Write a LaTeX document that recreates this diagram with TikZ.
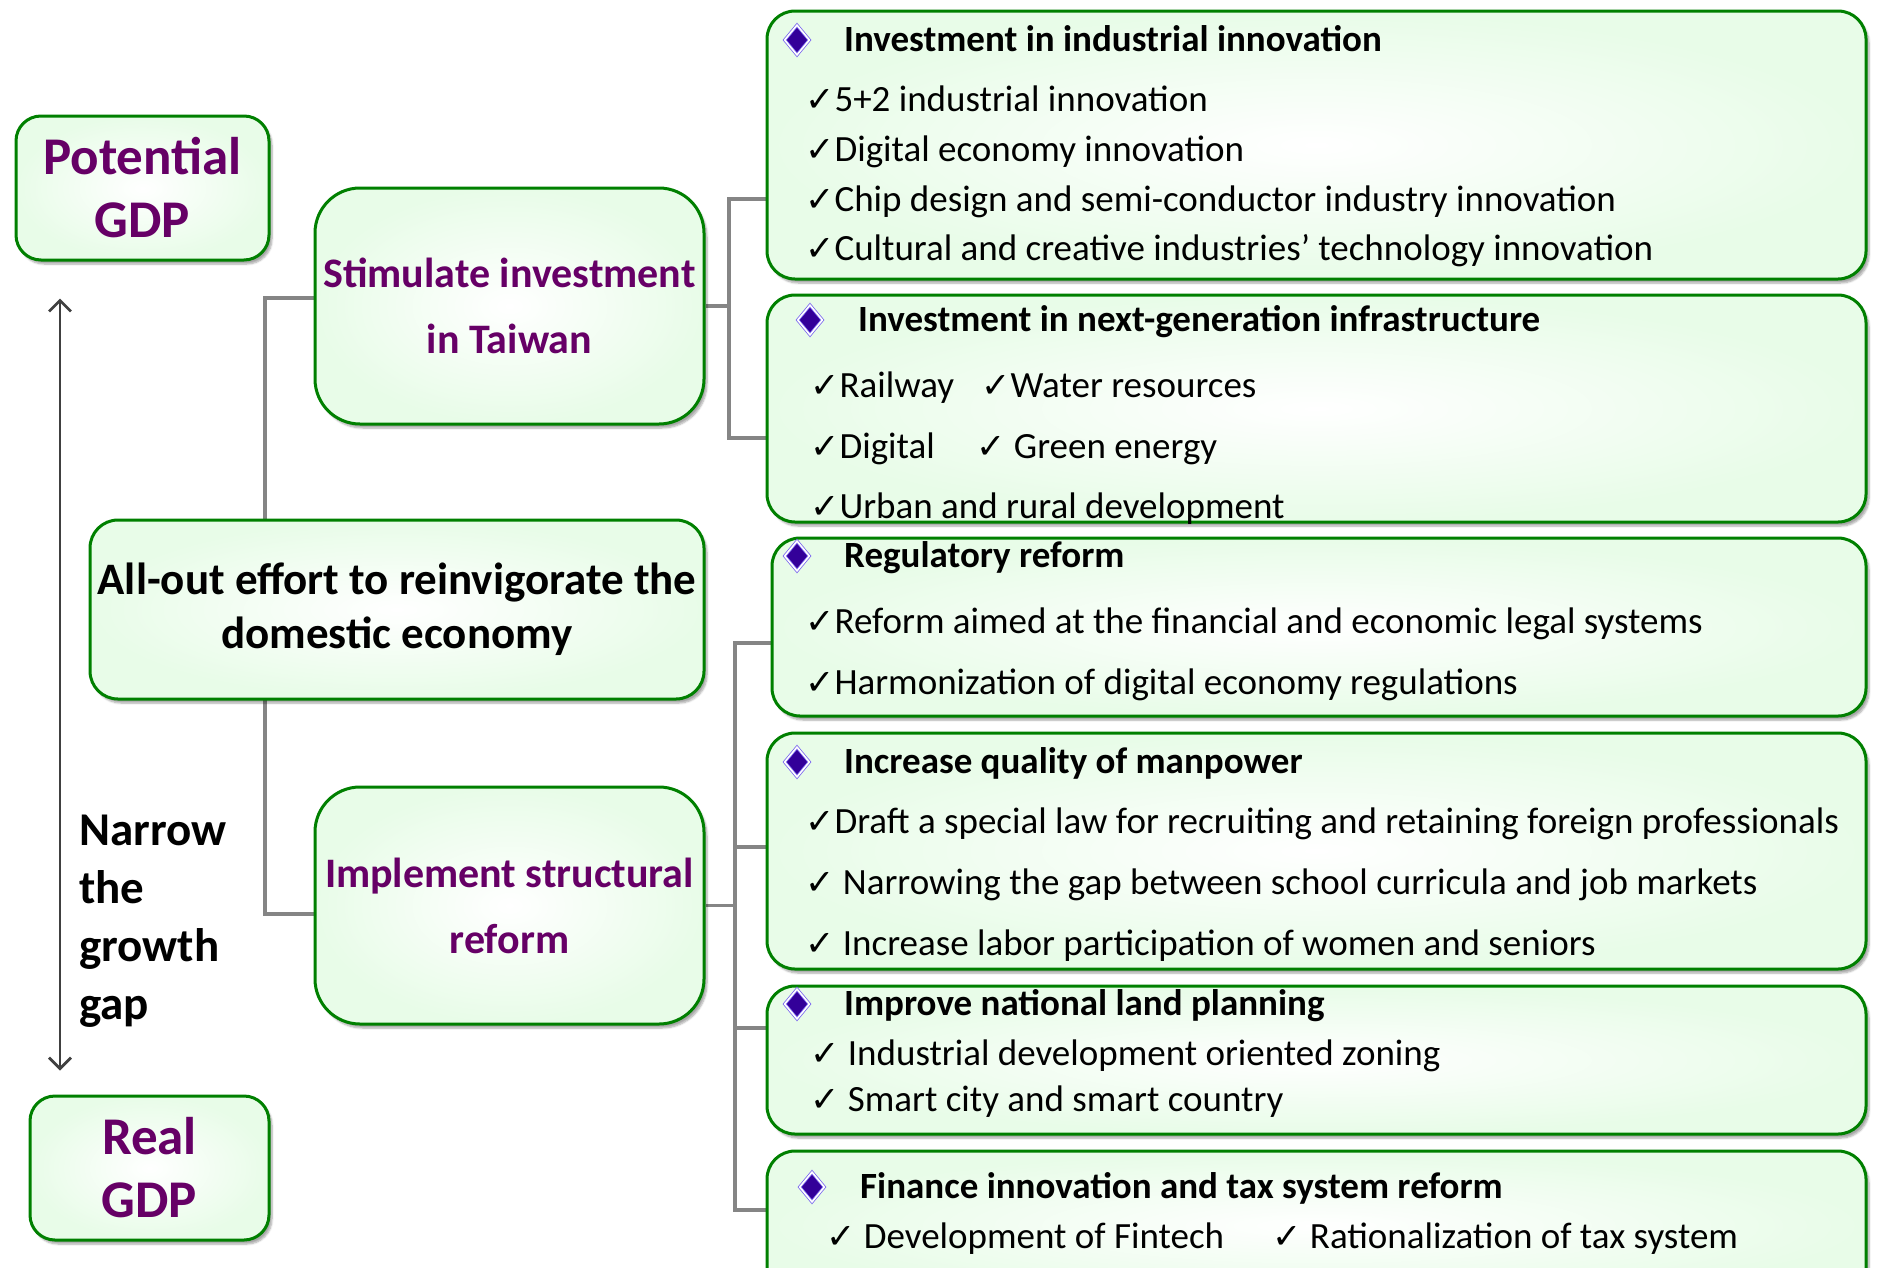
\documentclass[tikz,border=0pt]{standalone}
\usepackage{fontspec}
\setmainfont{Carlito}
\newfontfamily\symf{DejaVu Sans}
\usetikzlibrary{shapes.geometric,arrows.meta,shadows.blur,backgrounds}
\definecolor{gborder}{HTML}{008000}
\definecolor{gfill}{HTML}{E8FCE8}
\definecolor{ptxt}{HTML}{660066}
\definecolor{bfill}{HTML}{330099}
\definecolor{bline}{HTML}{7B68EE}
\definecolor{cgray}{HTML}{858585}
\definecolor{agray}{HTML}{404040}
\newcommand\ck{{\symf\fontsize{35}{35}\selectfont ✓}}
\tikzset{
  gbox/.style={draw=gborder, line width=3pt, rounded corners=#1, inner color=white, outer color=gfill,
    blur shadow={shadow xshift=3pt, shadow yshift=-4pt, shadow blur steps=6, shadow opacity=35},
    inner sep=0pt, align=center},
  gbox/.default=28pt,
  conn/.style={draw=cgray, line width=3.5pt},
  dblarrow/.style={draw=agray, line width=2.8pt, {Straight Barb[length=11pt,width=22pt]}-{Straight Barb[length=11pt,width=22pt]}},
  bigpurple/.style={font=\bfseries\fontsize{53}{63}\selectfont, text=ptxt},
  midpurple/.style={font=\bfseries\fontsize{42}{66}\selectfont, text=ptxt},
  hd/.style={anchor=base west, inner sep=0pt, font=\bfseries\fontsize{37}{37}\selectfont},
  it/.style={anchor=base west, inner sep=0pt, font=\fontsize{37}{37}\selectfont},
  bul/.style={diamond, fill=bfill, draw=bline, double=white, double distance=1.6pt, line width=0.8pt,
    minimum width=25pt, minimum height=30pt, inner sep=0pt},
}
\begin{document}
\begin{tikzpicture}[x=1pt,y=-1pt]
\useasboundingbox (0,0) rectangle (1878,1267);
\clip (0,0) rectangle (1878,1267);

% left column
\node[gbox=25pt, bigpurple, minimum width=253pt, minimum height=144pt] (pot) at (142.5,188) {Potential\\GDP};
\node[gbox=25pt, bigpurple, minimum width=239pt, minimum height=144pt] (real) at (149.5,1168) {Real\\GDP};
\node[gbox=45pt, midpurple, minimum width=389pt, minimum height=236pt] (stim) at (509.5,306) {Stimulate investment\\in Taiwan};
\node[gbox=45pt, midpurple, minimum width=389pt, minimum height=237pt] (impl) at (509.5,905.5) {Implement structural\\reform};
\node[gbox=28pt, font=\bfseries\fontsize{45}{54}\selectfont, minimum width=614pt, minimum height=179pt] (allout) at (397,609.5) {All-out effort to reinvigorate the\\domestic economy};

\node[anchor=north west, inner sep=0pt, align=left, font=\bfseries\fontsize{47}{58}\selectfont] (gap) at (79,815) {Narrow\\the\\growth\\gap};

\coordinate (arrX) at (60,0);
\draw[dblarrow, shorten <=37pt, shorten >=24pt] (pot.south -| arrX) -- (real.north -| arrX);

% right boxes
\node[gbox, minimum width=1099pt, minimum height=268pt] (b1) at (1316.5,145) {};
\node[gbox, minimum width=1099pt, minimum height=227pt] (b2) at (1316.5,408.5) {};
\node[gbox, minimum width=1094pt, minimum height=178pt] (b3) at (1319,627) {};
\node[gbox, minimum width=1099pt, minimum height=236pt] (b4) at (1316.5,851) {};
\node[gbox, minimum width=1099pt, minimum height=148pt] (b5) at (1316.5,1060) {};
\node[gbox, minimum width=1099pt, minimum height=149pt] (b6) at (1316.5,1225.5) {};

% connectors
\coordinate (jL) at (265,600);
\coordinate (jS) at (729,306);
\coordinate (jI) at (735,905.5);
\begin{scope}[on background layer]
\draw[conn] ([yshift=8pt]stim.west) -| (jL) |- ([yshift=-8.5pt]impl.west);
\draw[conn] (stim.east) -- (jS);
\draw[conn] ([yshift=-54pt]b1.west) -| (jS) |- ([yshift=-29.5pt]b2.west);
\draw[conn] (impl.east) -- (jI);
\draw[conn] ([yshift=-16pt]b3.west) -| (jI) |- ([yshift=15.5pt]b6.west);
\draw[conn] ([yshift=4pt]b4.west) -- ++(-32,0);
\draw[conn] ([yshift=32pt]b5.west) -- ++(-32,0);
\end{scope}

% box 1
\node[bul] (d1) at (797,40) {};
\node[hd] (h1) at (844,51) {Investment in industrial innovation};
\node[it] (i11) at (805,111) {\ck5+2 industrial innovation};
\node[it] (i12) at (805,161) {\ck Digital economy innovation};
\node[it] (i13) at (805,211) {\ck Chip design and semi-conductor industry innovation};
\node[it] (i14) at (805,260) {\ck Cultural and creative industries’ technology innovation};

% box 2
\node[bul] (d2) at (810,320) {};
\node[hd] (h2) at (858,331) {Investment in next-generation infrastructure};
\node[it] (i21) at (810,397) {\ck Railway};
\node[it] (i22) at (981,397) {\ck Water resources};
\node[it] (i23) at (810,458) {\ck Digital};
\node[it] (i24) at (976,458) {\ck\ Green energy};
\node[it] (i25) at (810,518) {\ck Urban and rural development};

% box 3
\node[bul] (d3) at (797,556) {};
\node[hd] (h3) at (844,567) {Regulatory reform};
\node[it] (i31) at (805,633) {\ck Reform aimed at the financial and economic legal systems};
\node[it] (i32) at (805,694) {\ck Harmonization of digital economy regulations};

% box 4
\node[bul] (d4) at (797,762) {};
\node[hd] (h4) at (844,773) {Increase quality of manpower};
\node[it] (i41) at (805,833) {\ck Draft a special law for recruiting and retaining foreign professionals};
\node[it] (i42) at (805,894) {\ck\ Narrowing the gap between school curricula and job markets};
\node[it] (i43) at (805,955) {\ck\ Increase labor participation of women and seniors};

% box 5
\node[bul] (d5) at (797,1004) {};
\node[hd] (h5) at (844,1015) {Improve national land planning};
\node[it] (i51) at (810,1065) {\ck\ Industrial development oriented zoning};
\node[it] (i52) at (810,1111) {\ck\ Smart city and smart country};

% box 6
\node[bul] (d6) at (812,1187) {};
\node[hd] (h6) at (860,1198) {Finance innovation and tax system reform};
\node[it] (i61) at (826,1248) {\ck\ Development of Fintech};
\node[it] (i62) at (1272,1248) {\ck\ Rationalization of tax system};
\end{tikzpicture}
\end{document}
